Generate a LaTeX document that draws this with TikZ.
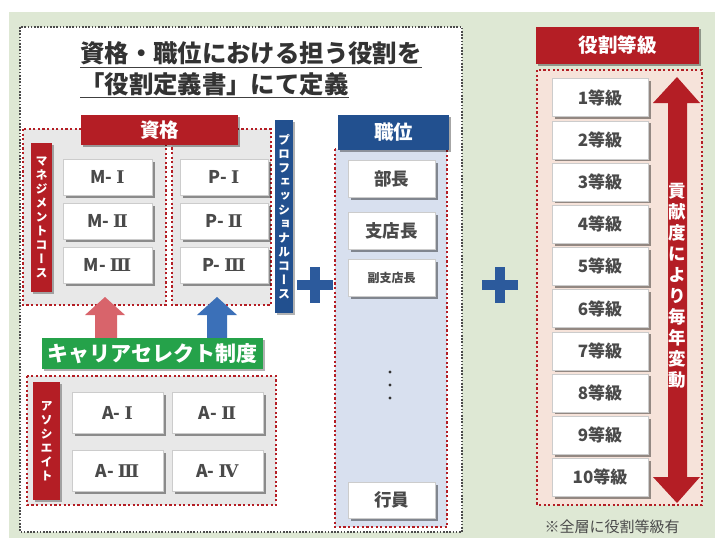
\documentclass[tikz,border=0pt]{standalone}
\usepackage{fontspec}
\setmainfont{Noto Sans CJK JP}
\newfontfamily\jpv{Noto Sans CJK JP}[RawFeature=+vert]
\newfontfamily\romf{DejaVu Serif}
\usetikzlibrary{shadows}
\definecolor{bggreen}{HTML}{DEE8D4}
\definecolor{dred}{HTML}{B41E25}
\definecolor{dblue}{HTML}{22508F}
\definecolor{pblue}{HTML}{2C5A9C}
\definecolor{cgreen}{HTML}{25A24A}
\definecolor{lgray}{HTML}{E8E8E8}
\definecolor{lblue}{HTML}{D8E0EF}
\definecolor{peach}{HTML}{F6E3DA}
\definecolor{txtgray}{HTML}{4A4A4A}
\definecolor{pinkarr}{HTML}{D8646B}
\definecolor{bluearr}{HTML}{3B70B8}
\tikzset{
 rdot/.style={draw=dred, line width=2.2pt, dash pattern=on 2.2pt off 2.4pt},
 wbox/.style={draw=gray!40, fill=white, inner sep=0pt,
   drop shadow={shadow xshift=2.5pt,shadow yshift=-2.5pt,fill=black,opacity=0.4},
   text=txtgray, font=\bfseries\fontsize{17.5}{18}\selectfont},
 hdr/.style={inner sep=0pt, text=white, font=\bfseries\fontsize{19.5}{20}\selectfont,
   drop shadow={shadow xshift=2pt,shadow yshift=-2pt,fill=black,opacity=0.35}},
 vlab/.style={inner sep=0pt, text=white, align=center,
   font=\jpv\bfseries\fontsize{12}{14}\selectfont,
   drop shadow={shadow xshift=1.5pt,shadow yshift=-1.5pt,fill=black,opacity=0.3}},
}
\begin{document}
\begin{tikzpicture}[x=1pt,y=-1pt]
\useasboundingbox (0,0) rectangle (715,543);
% background
\fill[bggreen] (9,12) rectangle (715,538);
% outer white dotted frame
\draw[fill=white, draw=gray!60!black, line width=2pt, dash pattern=on 1.6pt off 1.6pt] (20,27) rectangle (462,532);
% title
\node[anchor=base west, inner sep=0pt, text=black!80, font=\bfseries\fontsize{24.4}{25}\selectfont] (t1) at (80,63) {資格・職位における担う役割を};
\node[anchor=base west, inner sep=0pt, text=black!80, font=\bfseries\fontsize{24.4}{25}\selectfont] (t2) at (80,93) {「役割定義書」にて定義};
\draw[black!75, line width=1.2pt] ([yshift=-1.5pt]t1.south west) -- ([yshift=-1.5pt]t1.south east);
\draw[black!75, line width=1.2pt] ([yshift=-1.5pt]t2.south west) -- ([yshift=-1.5pt]t2.south east);
% qualification groups
\draw[rdot, fill=lgray] (23,129) rectangle (166,305);
\draw[rdot, fill=lgray] (172,129) rectangle (271,305);
\node[hdr, fill=dred, minimum width=157pt, minimum height=30pt] (shikaku) at (159.5,130) {資格};
\node[vlab, fill=dred, minimum width=21pt, minimum height=149pt] (mgmt) at (41.5,217.5) {マ\\ネ\\ジ\\メ\\ン\\ト\\コ\\ー\\ス};
\node[vlab, fill=dblue, minimum width=18pt, minimum height=193pt] (prof) at (284,216.5) {プ\\ロ\\フ\\ェ\\ッ\\シ\\ョ\\ナ\\ル\\コ\\ー\\ス};
\foreach \n/\t/\y in {m1/Ⅰ/177, m2/Ⅱ/221, m3/Ⅲ/265}{
  \node[wbox, minimum width=89pt, minimum height=36pt] (\n) at (107.5,\y) {M- {\romf\t}};
}
\foreach \n/\t/\y in {p1/Ⅰ/177, p2/Ⅱ/221, p3/Ⅲ/265}{
  \node[wbox, minimum width=88pt, minimum height=36pt] (\n) at (224,\y) {P- {\romf\t}};
}
% up arrows
\fill[pinkarr] (105,297) -- (125,315) -- (117,315) -- (117,342) -- (95,342) -- (95,315) -- (85,315) -- cycle;
\fill[bluearr] (217,297) -- (237,315) -- (227,315) -- (227,342) -- (207,342) -- (207,315) -- (197,315) -- cycle;
% career select
\node[inner sep=0pt, fill=cgreen, text=white, font=\bfseries\fontsize{21}{22}\selectfont, minimum width=221pt, minimum height=31pt,
  drop shadow={shadow xshift=1.5pt,shadow yshift=-1.5pt,fill=black,opacity=0.3}] (career) at (152.5,353.5) {キャリアセレクト制度};
% associate group
\draw[rdot, fill=lgray] (27,376) rectangle (276,505);
\node[vlab, fill=dred, minimum width=27pt, minimum height=118pt] (assoc) at (46.5,441) {ア\\ソ\\シ\\エ\\イ\\ト};
\node[wbox, minimum width=91pt, minimum height=41pt] (a1) at (117.5,412.5) {A- {\romf Ⅰ}};
\node[wbox, minimum width=91pt, minimum height=41pt] (a2) at (217.5,412.5) {A- {\romf Ⅱ}};
\node[wbox, minimum width=91pt, minimum height=41pt] (a3) at (117.5,471) {A- {\romf Ⅲ}};
\node[wbox, minimum width=91pt, minimum height=41pt] (a4) at (217.5,471) {A- {\romf Ⅳ}};
% plus signs
\fill[pblue] (297,280) rectangle (333,290);
\fill[pblue] (310,267) rectangle (320,303);
\fill[pblue] (482,280) rectangle (518,290);
\fill[pblue] (495,267) rectangle (505,303);
% position column
\draw[rdot, fill=lblue] (335,149) rectangle (447,527);
\node[hdr, fill=dblue, minimum width=111pt, minimum height=35pt] (shokui) at (393.5,132.5) {職位};
\node[wbox, minimum width=87pt, minimum height=37pt] (bucho) at (391.5,178.5) {部長};
\node[wbox, minimum width=87pt, minimum height=37pt] (shiten) at (391.5,231) {支店長};
\node[wbox, minimum width=87pt, minimum height=37pt, font=\bfseries\fontsize{12}{13}\selectfont] (fuku) at (391.5,278) {副支店長};
\node[wbox, minimum width=87pt, minimum height=36pt] (koin) at (391.5,500) {行員};
\fill[black!80] (390,372) circle (1.6pt) (390,385) circle (1.6pt) (390,398) circle (1.6pt);
% grade column
\draw[rdot, fill=peach] (537,70) rectangle (702,505);
\node[hdr, fill=dred, minimum width=163pt, minimum height=37pt] (yakuwari) at (617.5,45.5) {役割等級};
\foreach \i [evaluate=\i as \y using {97.5+42.2*(\i-1)}] in {1,...,10}{
  \node[wbox, minimum width=96pt, minimum height=38pt, font=\bfseries\fontsize{17}{18}\selectfont] (g\i) at (600,\y) {{\i}等級};
}
% double arrow
\fill[dred] (677,77) -- (700,103) -- (687,103) -- (687,477) -- (700,477) -- (677,503) -- (653,477) -- (668,477) -- (668,103) -- (653,103) -- cycle;
\node[inner sep=0pt, align=center, text=white, font=\jpv\bfseries\fontsize{17.5}{21}\selectfont] (koken) at (677,286) {貢\\献\\度\\に\\よ\\り\\毎\\年\\変\\動};
% footnote
\node[inner sep=0pt, text=txtgray, font=\fontsize{15}{16}\selectfont] (note) at (612,527) {※全層に役割等級有};
\end{tikzpicture}
\end{document}
